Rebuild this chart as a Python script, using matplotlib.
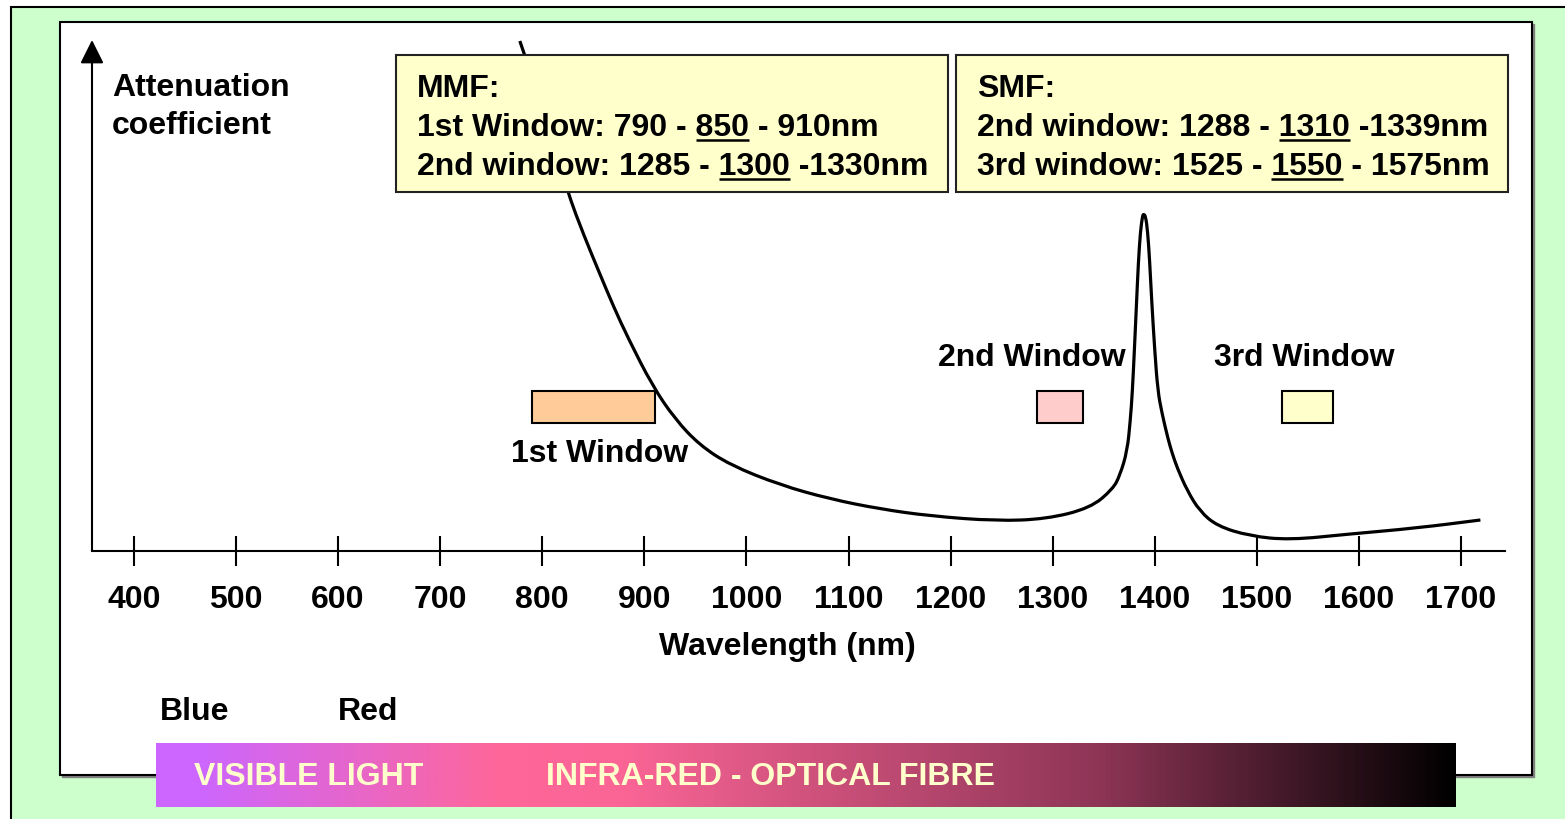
import numpy as np
import matplotlib.pyplot as plt
from matplotlib.patches import Rectangle, PathPatch
from matplotlib.path import Path
from matplotlib.colors import LinearSegmentedColormap

plt.rcParams['font.family'] = ['Liberation Sans', 'DejaVu Sans']
plt.rcParams['font.weight'] = 'bold'

# attenuation of silica fibre vs wavelength (arbitrary units)
wavelength = [778, 784, 825, 841, 856, 870, 884, 908, 930, 954,
              984, 1033, 1082, 1131, 1180, 1245, 1294, 1337, 1359, 1366,
              1373, 1376, 1378, 1380, 1382, 1384, 1386, 1388, 1389, 1391,
              1393, 1395, 1397, 1400, 1403, 1407, 1413, 1417, 1422, 1432,
              1444, 1461, 1493, 1532, 1591, 1657, 1719]
attenuation = [5.10, 4.93, 3.58, 3.15, 2.78, 2.44, 2.13, 1.65, 1.32, 1.06,
               0.86, 0.66, 0.52, 0.42, 0.35, 0.30, 0.32, 0.43, 0.62, 0.76,
               1.00, 1.30, 1.58, 2.00, 2.45, 2.90, 3.20, 3.35, 3.37, 3.35,
               3.20, 2.90, 2.50, 2.00, 1.60, 1.38, 1.12, 0.98, 0.83, 0.60,
               0.40, 0.25, 0.15, 0.11, 0.17, 0.23, 0.31]

tick_nm = [400, 500, 600, 700, 800, 900, 1000, 1100, 1200, 1300, 1400, 1500, 1600, 1700]

# low loss windows (nm)
window_names = ['1st Window', '2nd Window', '3rd Window']
window_start = [790, 1285, 1525]
window_end = [910, 1330, 1575]
window_colors = ['#FFCC99', '#FFCCCC', '#FFFFCC']

# info box rows: text before, underlined centre value, text after
mmf_rows = [('1st Window: 790 - ', '850', ' - 910nm'),
            ('2nd window: 1285 - ', '1300', ' -1330nm')]
smf_rows = [('2nd window: 1288 - ', '1310', ' -1339nm'),
            ('3rd window: 1525 - ', '1550', ' - 1575nm')]

W, H = 1565, 819
FS = 23
fig = plt.figure(figsize=(W / 100, H / 100), dpi=100)

# background layer in pixel coordinates
bg = fig.add_axes([0, 0, 1, 1], zorder=0)
bg.set_xlim(0, W)
bg.set_ylim(H, 0)
bg.axis('off')
bg.add_patch(Rectangle((11, 7), W, H, facecolor='#CCFFCC', edgecolor='black', lw=1.5))
bg.add_patch(Rectangle((62, 24), 1472, 753, facecolor='#808080', edgecolor='#808080', lw=1))
bg.add_patch(Rectangle((60, 22), 1472, 753, facecolor='white', edgecolor='black', lw=1.5))

spectrum = LinearSegmentedColormap.from_list('spectrum', [
    (0.0, '#CC66FF'), (0.03, '#CC66FF'), (0.265, '#FF6699'),
    (0.36, '#FA6596'), (0.726, '#8E3556'), (1.0, '#000000')])
bg.imshow(np.linspace(0, 1, 512)[None, :], cmap=spectrum, aspect='auto',
          extent=[156, 1456, 807, 743], zorder=3)

bg.text(112, 96, 'Attenuation', fontsize=FS, va='baseline')
bg.text(112, 134, 'coefficient', fontsize=FS, va='baseline')
bg.text(787, 655, 'Wavelength (nm)', fontsize=FS, ha='center', va='baseline')
bg.text(160, 720, 'Blue', fontsize=FS, va='baseline')
bg.text(338, 720, 'Red', fontsize=FS, va='baseline')
bg.text(194, 785, 'VISIBLE LIGHT', fontsize=FS, va='baseline', color='#FFFFCC', zorder=4)
bg.text(546, 785, 'INFRA-RED - OPTICAL FIBRE', fontsize=FS, va='baseline', color='#FFFFCC', zorder=4)
bg.text(600, 462, window_names[0], fontsize=FS, ha='center', va='baseline')
bg.text(1032, 366, window_names[1], fontsize=FS, ha='center', va='baseline')
bg.text(1304, 366, window_names[2], fontsize=FS, ha='center', va='baseline')

# attenuation curve
ax = fig.add_axes([92 / W, (H - 551) / H, (1505 - 92) / W, (551 - 40) / H], zorder=1)
ax.patch.set_alpha(0)
ax.set_xlim(358.9, 1743.1)
ax.set_ylim(0, 5.11)

# smooth the read points with quadratic bezier segments
pts = np.column_stack([wavelength, attenuation])
verts = [pts[0]]
codes = [Path.MOVETO]
for i in range(1, len(pts) - 1):
    verts += [pts[i], (pts[i] + pts[i + 1]) / 2]
    codes += [Path.CURVE3, Path.CURVE3]
verts.append(pts[-1])
codes.append(Path.LINETO)
ax.add_patch(PathPatch(Path(verts, codes), fill=False, edgecolor='black',
                       lw=2.3, joinstyle='round', clip_on=False))

for s, e, c in zip(window_start, window_end, window_colors):
    ax.add_patch(Rectangle((s, 1.28), e - s, 0.32, facecolor=c, edgecolor='black', lw=1.5))

for side in ['top', 'right', 'left']:
    ax.spines[side].set_visible(False)
ax.spines['bottom'].set_linewidth(1.5)
ax.set_yticks([])
ax.set_xticks(tick_nm)
ax.set_xticklabels([str(t) for t in tick_nm], fontsize=FS, fontweight='bold')
ax.tick_params(axis='x', direction='inout', length=21.6, width=1.5, pad=13.7)
ax.annotate('', xy=(0, 1), xytext=(0, 0), xycoords='axes fraction',
            arrowprops=dict(arrowstyle='-|>,head_length=1.0,head_width=0.5',
                            mutation_scale=14.4, lw=1.5, color='black',
                            shrinkA=0, shrinkB=0))

# MMF / SMF info boxes on top of everything
fg = fig.add_axes([0, 0, 1, 1], zorder=2)
fg.set_xlim(0, W)
fg.set_ylim(H, 0)
fg.axis('off')
fg.patch.set_alpha(0)

boxes = [(396, 'MMF:', mmf_rows), (956, 'SMF:', smf_rows)]
placed = []
for x0, title, rows in boxes:
    fg.add_patch(Rectangle((x0, 55), 552, 137, facecolor='#FFFFCC', edgecolor='#222222', lw=1.5))
    fg.text(x0 + 21, 97, title, fontsize=FS, va='baseline')
    for i, (a, b, c) in enumerate(rows):
        y = 136 + 39 * i
        t = fg.text(x0 + 21, y, a + b + c, fontsize=FS, va='baseline')
        placed.append((t, x0 + 21, y, a, b))

fig.canvas.draw()
r = fig.canvas.get_renderer()
for t, x, y, a, b in placed:
    fp = t.get_fontproperties()
    w_ab = r.get_text_width_height_descent(a + b, fp, ismath=False)[0]
    w_b = r.get_text_width_height_descent(b, fp, ismath=False)[0]
    fg.plot([x + w_ab - w_b, x + w_ab], [y + 3.5, y + 3.5], color='black',
            lw=1.8, solid_capstyle='butt')

fig.savefig('out.png', dpi=100)
